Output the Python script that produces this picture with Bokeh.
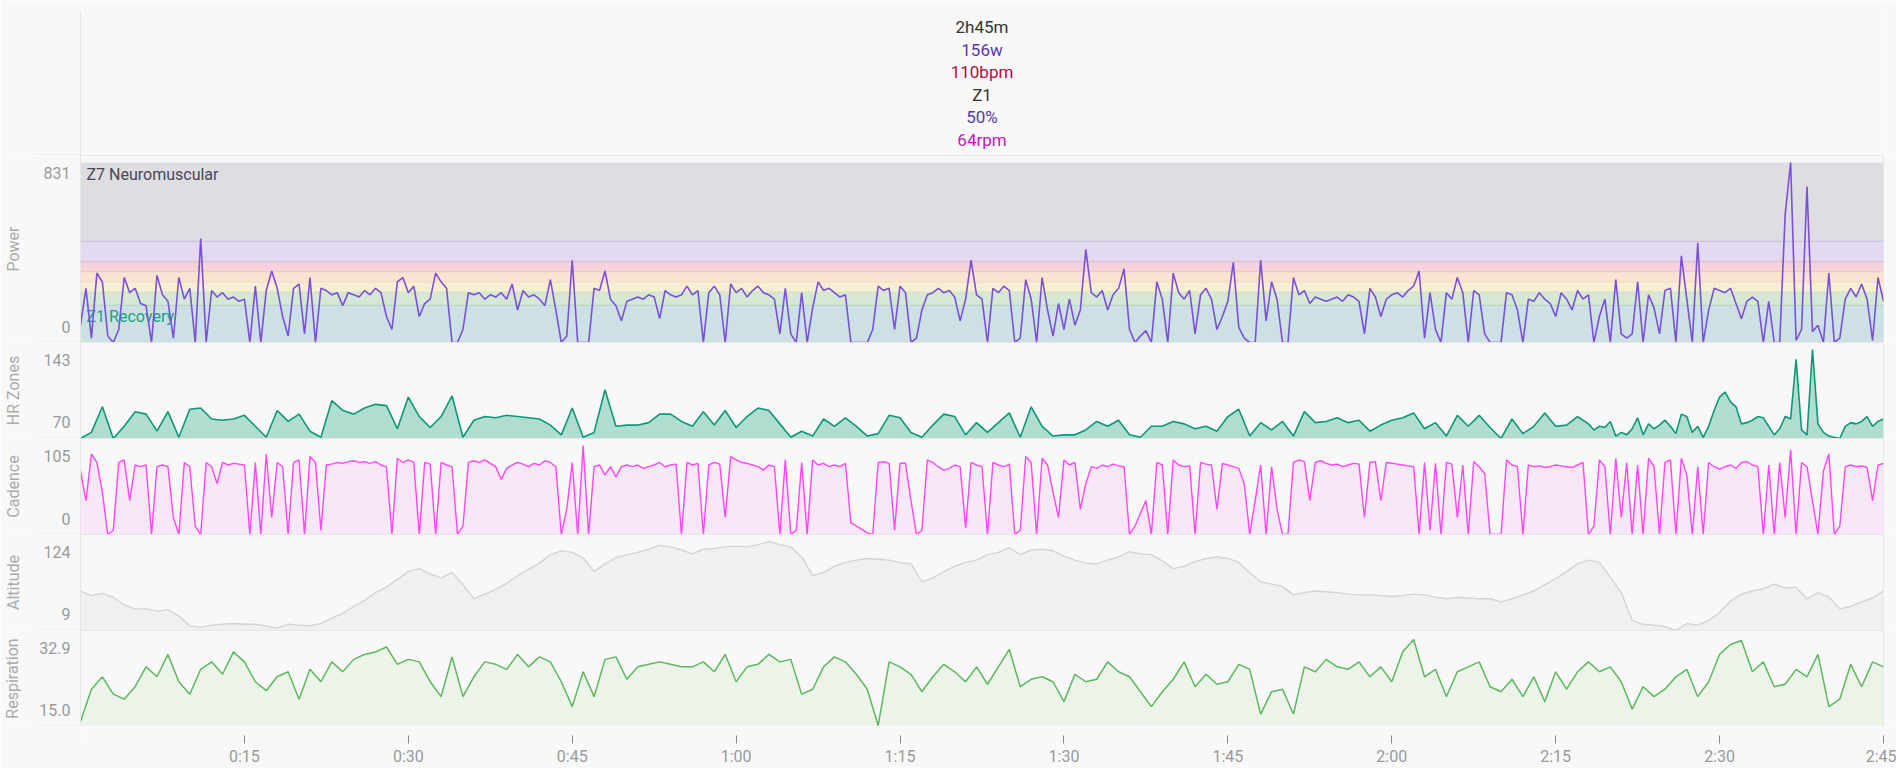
import numpy as np
from bokeh.plotting import figure
from bokeh.layouts import column
from bokeh.models import Range1d, FixedTicker
from bokeh.core.properties import value
from bokeh.embed import file_html
from bokeh.resources import INLINE

FONT = "Roboto"
BG = "#f8f8f8"
SEP = "#e6e6e6"
W = 1896
LEFT = 80
RIGHT = 13
EXT = 45  # length of separator lines left of the frame

# ---------------- data ----------------
DURATION = 165.0

# header (hover read-out)
header_text = ["2h45m", "156w", "110bpm", "Z1", "50%", "64rpm"]
header_colors = ["#333333", "#5b37a8", "#b00f3c", "#333333", "#5b37a8", "#c116c1"]

# time axis
x_ticks = [15, 30, 45, 60, 75, 90, 105, 120, 135, 150, 165]
x_tick_labels = ["0:15", "0:30", "0:45", "1:00", "1:15", "1:30", "1:45",
                 "2:00", "2:15", "2:30", "2:45"]

# power zones (FTP 311 W)
zone_names = ["Z1 Recovery", "Z2 Endurance", "Z3 Tempo", "Z4 Threshold",
              "Z5 VO2 Max", "Z6 Anaerobic", "Z7 Neuromuscular"]
zone_bottoms = [0, 171, 233, 280, 327, 373, 467]
zone_tops = [171, 233, 280, 327, 373, 467, 831]
zone_fill = ["#cde0e4", "#d4e8d5", "#f7efd4", "#f9e3d3", "#f3d3dc", "#e3daf1", "#dedde1"]
zone_line = ["#b9d6c8", "#d9e4c2", "#f3dcc0", "#f2c8c0", "#e4bccb", "#cdc4dc", "#dedde1"]

# power (W), 30 s samples
power_a = [80, 250, 20, 320, 280, 30, 0, 60, 300, 230,
           250, 180, 170, 0, 310, 220, 190, 20, 300, 200,
           250, 0, 480, 0, 240, 210, 230, 200, 210, 190,
           200, 0, 260, 0, 240, 330, 250, 120, 30, 250,
           270, 40, 300, 0, 250, 240, 220, 230, 170, 230,
           220, 210, 240, 220, 250]
power_b = [230, 120, 60, 280, 300, 230, 260, 120, 180, 200,
           320, 280, 250, 0, 0, 60, 230, 220, 230, 200,
           220, 210, 230, 200, 270, 150, 240, 210, 220, 200,
           170, 290, 150, 0, 30, 380, 0, 0, 0, 250,
           240, 330, 200, 170, 100, 190, 200, 210, 200, 220,
           210, 110, 240, 220, 210]
power_c = [220, 260, 220, 240, 0, 230, 260, 220, 0, 270,
           230, 250, 210, 240, 260, 230, 220, 200, 40, 250,
           40, 0, 230, 0, 160, 280, 240, 250, 230, 210,
           220, 0, 0, 0, 0, 60, 260, 240, 250, 60,
           260, 230, 0, 20, 150, 220, 230, 250, 230, 240,
           210, 100, 200, 380]
power_d = [220, 200, 0, 250, 230, 260, 240, 0, 20, 290,
           200, 0, 300, 150, 30, 180, 60, 200, 80, 150,
           430, 230, 210, 240, 150, 220, 250, 340, 60, 0,
           30, 55, 0, 280, 200, 0, 320, 230, 200, 240,
           40, 220, 250, 200, 60, 120, 190, 370, 70, 20,
           0, 0, 380, 100, 280, 200]
power_e = [0, 0, 300, 220, 240, 180, 210, 200, 190, 200,
           210, 190, 220, 210, 190, 40, 250, 210, 120, 200,
           220, 230, 210, 240, 260, 330, 20, 230, 60, 0,
           230, 200, 300, 230, 0, 240, 220, 40, 0, 0,
           0, 230, 220, 150, 0, 200, 190, 230, 200, 180,
           120, 230, 200, 150, 240]
power_f = [200, 220, 0, 120, 200, 0, 290, 40, 20, 40,
           280, 0, 220, 160, 40, 240, 250, 0, 400, 200,
           0, 460, 0, 150, 250, 240, 230, 250, 180, 110,
           190, 210, 190, 0, 190, 0, 0, 590, 831, 10,
           60, 720, 50, 80, 0, 320, 0, 20, 200, 250,
           210, 270, 200, 10, 300, 190]

# cadence (rpm), 30 s samples
cad_a = [75, 40, 95, 85, 50, 0, 5, 85, 88, 40,
         82, 80, 82, 0, 80, 82, 80, 20, 0, 85,
         80, 10, 0, 85, 80, 60, 85, 82, 84, 83,
         82, 0, 85, 0, 95, 20, 85, 80, 0, 85,
         88, 0, 92, 85, 5, 82, 83, 85, 84, 86,
         87, 85, 86, 84, 86]
cad_b = [82, 80, 0, 90, 85, 88, 85, 0, 85, 83,
         0, 85, 82, 80, 0, 10, 85, 87, 85, 88,
         84, 80, 65, 78, 82, 85, 83, 80, 84, 82,
         87, 85, 80, 0, 30, 85, 0, 105, 0, 80,
         82, 70, 80, 68, 80, 82, 80, 82, 78, 80,
         82, 85, 80, 82, 83]
cad_c = [0, 85, 82, 84, 0, 82, 85, 83, 20, 92,
         88, 85, 84, 82, 80, 76, 82, 80, 0, 88,
         0, 5, 85, 0, 88, 82, 84, 80, 82, 80,
         84, 14, 10, 6, 2, 0, 85, 86, 84, 5,
         84, 84, 40, 0, 5, 88, 85, 80, 76, 78,
         82, 80, 8, 85]
cad_d = [82, 80, 0, 85, 82, 80, 83, 0, 5, 92,
         85, 0, 90, 82, 50, 20, 88, 82, 85, 30,
         60, 80, 78, 82, 80, 83, 81, 80, 0, 10,
         25, 40, 0, 85, 82, 0, 88, 82, 80, 81,
         0, 85, 83, 82, 30, 84, 82, 80, 78, 60,
         0, 40, 82, 0, 80, 30]
cad_e = [0, 0, 85, 88, 86, 40, 85, 87, 84, 82,
         83, 80, 82, 84, 83, 20, 85, 86, 40, 85,
         84, 83, 82, 81, 80, 0, 85, 5, 84, 0,
         85, 83, 20, 82, 0, 86, 80, 72, 0, 0,
         0, 88, 82, 80, 0, 82, 80, 81, 79, 80,
         82, 81, 80, 79, 82]
cad_f = [85, 0, 10, 88, 80, 0, 90, 20, 85, 0,
         82, 0, 90, 80, 0, 85, 88, 0, 90, 70,
         0, 80, 0, 85, 80, 77, 80, 82, 78, 85,
         86, 82, 80, 0, 82, 0, 85, 20, 100, 0,
         85, 80, 40, 0, 75, 95, 0, 10, 80, 82,
         80, 81, 79, 40, 82, 84]

# heart rate (bpm), 1 min samples, last part 30 s samples
hr_a = [70, 75, 96, 70, 80, 92, 90, 76, 92, 71,
        94, 95, 86, 85, 86, 89, 80, 71, 93, 84,
        90, 76, 71, 101, 93, 90, 95, 98, 97]
hr_b = [78, 104, 88, 79, 88, 105, 71, 85, 88, 87,
        89, 88, 87, 86, 81, 73, 95, 71, 75, 110,
        80, 81, 81, 83, 90, 90]
hr_c = [84, 80, 92, 81, 93, 79, 88, 95, 93, 82,
        71, 76, 72, 86, 80, 87, 80, 72, 74, 89,
        87, 75, 71, 81, 90, 88, 73, 83]
hr_d = [75, 83, 91, 71, 96, 80, 72, 73, 73, 77,
        84, 80, 85, 73, 71, 80, 80, 84, 82, 78,
        80, 76, 88, 94, 72, 83, 77]
hr_e = [84, 72, 92, 83, 84, 87, 83, 85, 76, 81,
        85, 87, 91, 78, 83, 72, 89, 80, 89, 79,
        70, 86, 74, 80, 91, 80, 81, 88]
hr_f = [85, 82, 77, 80, 79, 84, 72, 75, 73, 78,
        87, 73, 82, 78, 81, 85, 80, 74, 90, 88,
        75, 80, 71, 80, 93, 104, 108, 100, 96, 82,
        83, 85, 88, 87, 80, 73, 78, 88, 86, 135,
        77, 73, 143, 82, 75, 72, 71, 70, 80, 83,
        82, 84, 88, 80, 84, 86]

# altitude (m), 1 min samples
alt_a = [60, 54, 57, 52, 42, 37, 37, 34, 36, 28,
         15, 13, 16, 17, 18, 17, 17, 15, 12, 17,
         16, 15, 18, 25, 31, 40, 48, 58]
alt_b = [65, 75, 85, 89, 82, 77, 84, 68, 50, 56,
         62, 70, 80, 88, 96, 107, 112, 110, 103, 85,
         95, 103, 107, 110, 114, 119, 117]
alt_c = [113, 108, 114, 115, 117, 118, 117, 120, 124, 120,
         117, 104, 80, 84, 92, 97, 100, 102, 101, 100,
         97, 95, 72, 77, 85, 92, 97, 100]
alt_d = [107, 110, 116, 107, 113, 114, 112, 105, 100, 96,
         95, 100, 104, 111, 108, 107, 99, 89, 92, 98,
         102, 104, 102, 97, 84, 72, 69]
alt_e = [66, 55, 58, 60, 59, 58, 56, 55, 55, 54,
         53, 54, 56, 55, 52, 50, 52, 51, 50, 50,
         46, 50, 55, 60, 68, 76, 85, 95]
alt_f = [100, 97, 78, 58, 22, 17, 16, 14, 9, 18,
         16, 22, 32, 47, 56, 60, 63, 69, 64, 65,
         50, 58, 52, 37, 40, 46, 51, 60]

# respiration (br/min), 1 min samples
resp_a = [16, 22.5, 25, 21.5, 20.5, 23, 27, 25, 29.5, 24,
          21.5, 26.5, 28, 25.5, 30, 28, 24, 22.2, 25, 26,
          20.5, 26.5, 24, 28, 26, 28.5, 29.5, 30]
resp_b = [31, 27.5, 28.5, 28, 24, 21, 29, 21, 25, 28,
          27.5, 26.5, 29.5, 27, 29, 28, 24, 19, 26, 21,
          28.5, 29, 24.5, 27, 27.5, 28, 27.5]
resp_c = [27, 27, 28, 26, 29.5, 24, 27, 27.5, 29.5, 28,
          28.5, 21.5, 22.5, 27, 29, 28, 25.5, 22.5, 15.2, 28,
          27, 25.5, 22, 25, 27.5, 26, 24, 27]
resp_d = [23.5, 27, 30.5, 23, 24.5, 25, 24, 20, 25.5, 24,
          24.5, 28, 26, 25, 22, 19, 22, 24.5, 28, 23,
          25.5, 23.5, 24, 27.5, 26.5, 17.5, 22]
resp_e = [22.5, 17.5, 27, 26, 28.5, 27, 26.5, 28, 25, 27,
          24, 30, 32.5, 25, 26.5, 21, 26, 27, 28, 23,
          22, 24.5, 21, 25, 20, 26, 22.5, 26]
resp_f = [28, 26, 27, 24, 18.5, 23, 21, 22.5, 25, 26.5,
          21, 24, 29.5, 31.5, 32.3, 26, 28, 23, 23.5, 26.5,
          25, 29.5, 19, 20.5, 27.5, 23, 28, 27]

# panel value ranges / labels
panel_names = ["Power", "HR Zones", "Cadence", "Altitude", "Respiration"]
panel_min = [0, 70, 0, 9, 15.0]
panel_max = [831, 143, 105, 124, 32.9]
panel_min_label = ["0", "70", "0", "9", "15.0"]
panel_max_label = ["831", "143", "105", "124", "32.9"]


def build(segments, step):
    t, v = [], []
    for start, vals in segments:
        t.extend(start + step * i for i in range(len(vals)))
        v.extend(vals)
    return np.array(t, dtype=float), np.array(v, dtype=float)


t_pw, power = build([(0.0, power_a), (27.5, power_b), (55.0, power_c),
                     (82.0, power_d), (110.0, power_e), (137.5, power_f)], 0.5)
t_cad, cadence = build([(0.0, cad_a), (27.5, cad_b), (55.0, cad_c),
                        (82.0, cad_d), (110.0, cad_e), (137.5, cad_f)], 0.5)
t_hr1, hr1 = build([(0, hr_a), (29, hr_b), (55, hr_c), (83, hr_d), (110, hr_e)], 1.0)
t_hr2, hr2 = build([(137.5, hr_f)], 0.5)
t_hr = np.concatenate([t_hr1, t_hr2])
hr = np.concatenate([hr1, hr2])
t_alt, alt = build([(0, alt_a), (28, alt_b), (55, alt_c), (83, alt_d),
                    (110, alt_e), (138, alt_f)], 1.0)
t_resp, resp = build([(0, resp_a), (28, resp_b), (55, resp_c), (83, resp_d),
                      (110, resp_e), (138, resp_f)], 1.0)

# ---------------- figures ----------------
xr = Range1d(0, DURATION)


def base_fig(height, y_range, top=0, bottom=0, outline=SEP):
    p = figure(width=W, height=height, x_range=xr, y_range=y_range,
               output_backend="svg", toolbar_location=None,
               x_axis_location=None,
               min_border_left=LEFT, min_border_right=RIGHT,
               min_border_top=top, min_border_bottom=bottom,
               background_fill_color=BG, border_fill_color=BG,
               outline_line_color=outline)
    p.xgrid.visible = False
    p.ygrid.visible = False
    return p


def separator_ticks(ax, ymin):
    # minor tick at the panel bottom, drawn outward as the separator line
    ax.minor_tick_in = 0
    ax.minor_tick_out = EXT
    ax.minor_tick_line_color = SEP
    ax.minor_tick_line_width = 2
    ax.major_tick_line_color = None
    ax.major_tick_out = 0
    ax.major_tick_in = 0
    ax.axis_line_color = SEP


def style_yaxis(p, ymin, yend, H, top_label, bottom_label, name, standoff):
    span = yend - ymin
    top_pos = round(yend - 17.5 / H * span, 4)
    bot_pos = round(ymin + 16.0 / H * span, 4)
    ax = p.yaxis[0]
    ax.ticker = FixedTicker(ticks=[bot_pos, top_pos], minor_ticks=[ymin])
    ax.major_label_overrides = {bot_pos: bottom_label, top_pos: top_label}
    separator_ticks(ax, ymin)
    ax.major_label_standoff = 10 - EXT
    ax.major_label_text_font = FONT
    ax.major_label_text_font_size = "16px"
    ax.major_label_text_color = "#9a9a9a"
    ax.axis_label = name
    ax.axis_label_text_font = FONT
    ax.axis_label_text_font_size = "16px"
    ax.axis_label_text_font_style = "normal"
    ax.axis_label_text_color = "#ababab"
    ax.axis_label_standoff = standoff


# header
HDR_FRAME = 143
header = base_fig(HDR_FRAME + 12, Range1d(0, HDR_FRAME), top=12, outline=None)
hax = header.yaxis[0]
hax.ticker = FixedTicker(ticks=[], minor_ticks=[0])
separator_ticks(hax, 0)
header_y = [128.5 - 22.55 * i for i in range(len(header_text))]
header.text(x=[DURATION / 2] * len(header_text), y=header_y, text=header_text,
            text_color=header_colors, text_align="center", text_baseline="middle",
            text_font=value(FONT), text_font_size="17px")

heights = [187, 96, 96, 96, 96]
figs = []
for i, H in enumerate(heights):
    ymin, ymax = panel_min[i], panel_max[i]
    yend = ymin + (ymax - ymin) * H / (H - 7)
    p = base_fig(H, Range1d(ymin, yend))
    standoff = 14 if panel_names[i] == "Respiration" else 18
    style_yaxis(p, ymin, yend, H, panel_max_label[i], panel_min_label[i],
                panel_names[i], standoff)
    figs.append(p)

# power panel
pp = figs[0]
pp.quad(left=0, right=DURATION, bottom=zone_bottoms, top=zone_tops,
        fill_color=zone_fill, line_color=None)
pp.segment(x0=[0] * 6, x1=[DURATION] * 6, y0=zone_tops[:-1], y1=zone_tops[:-1],
           line_color=zone_line[:-1], line_width=1.2)
pp.text(x=[0], y=[zone_tops[-1]], text=[zone_names[-1]], x_offset=6, y_offset=12,
        text_baseline="middle", text_color="#4b4658",
        text_font=value(FONT), text_font_size="16px")
pp.text(x=[0], y=[zone_bottoms[0]], text=[zone_names[0]], x_offset=6, y_offset=-26,
        text_baseline="middle", text_color="#17a088",
        text_font=value(FONT), text_font_size="16px")
pp.line(t_pw, power, line_color="#7a50d9", line_width=1.6)

# HR
ph = figs[1]
ph.varea(x=t_hr, y1=panel_min[1], y2=hr, fill_color="#b1ddd1")
ph.line(t_hr, hr, line_color="#0b9877", line_width=1.6)

# cadence
pc = figs[2]
pc.varea(x=t_cad, y1=0, y2=cadence, fill_color="#f7e7f7")
pc.line(t_cad, cadence, line_color="#ff45f6", line_width=1.4)

# altitude
pa = figs[3]
pa.varea(x=t_alt, y1=panel_min[3], y2=alt, fill_color="#f0f0f0")
pa.line(t_alt, alt, line_color="#d4d4d4", line_width=1.4)

# respiration
pr = figs[4]
pr.varea(x=t_resp, y1=panel_min[4], y2=resp, fill_color="#ecf4ea")
pr.line(t_resp, resp, line_color="#5cb85c", line_width=1.5)

# x axis strip
xa = figure(width=W, height=42, x_range=xr, y_range=Range1d(0, 1),
            output_backend="svg", toolbar_location=None, y_axis_location=None,
            min_border_left=LEFT, min_border_right=RIGHT,
            min_border_top=0, min_border_bottom=22,
            background_fill_color=BG, border_fill_color=BG, outline_line_color=None)
xa.xgrid.visible = False
xa.ygrid.visible = False
xax = xa.xaxis[0]
xax.ticker = FixedTicker(ticks=x_ticks)
xax.major_label_overrides = {t: lab for t, lab in zip(x_ticks, x_tick_labels)}
xax.axis_line_color = None
xax.major_tick_in = 8
xax.major_tick_out = 0
xax.major_tick_line_color = "#8a8a8a"
xax.minor_tick_line_color = None
xax.major_label_standoff = 3
xax.major_label_text_font = FONT
xax.major_label_text_font_size = "16px"
xax.major_label_text_color = "#9a9a9a"

layout = column([header] + figs + [xa], spacing=0)
open("out.html", "w").write(file_html(layout, INLINE))
